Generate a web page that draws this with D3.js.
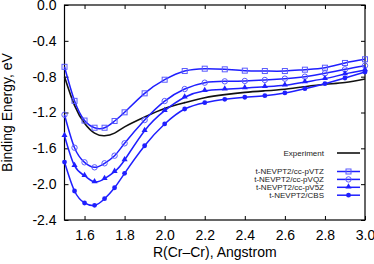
<!DOCTYPE html>
<html>
<head>
<meta charset="utf-8">
<script src="https://cdn.jsdelivr.net/npm/d3@7"></script>
<style>
  body { margin: 0; background: #fff; }
  svg { display: block; font-family: "Liberation Sans", Arial, sans-serif; }
</style>
</head>
<body>
<svg width="374" height="264"></svg>
<script>
// distances (Angstrom) where the t-NEVPT2 points sit
var rPts = [1.5, 1.55, 1.6, 1.65, 1.7, 1.75, 1.8, 1.9, 2.0, 2.1, 2.2, 2.3, 2.4, 2.5, 2.6, 2.7, 2.8, 2.9, 3.0];
var vtz = [-0.69, -1.07, -1.29, -1.37, -1.37, -1.295, -1.198, -0.986, -0.834, -0.737, -0.711, -0.718, -0.733, -0.737, -0.737, -0.722, -0.70, -0.647, -0.606];
var vqz = [-1.225, -1.593, -1.756, -1.812, -1.767, -1.682, -1.544, -1.284, -1.072, -0.938, -0.867, -0.852, -0.848, -0.837, -0.822, -0.80, -0.763, -0.718, -0.677];
var v5z = [-1.459, -1.794, -1.906, -1.975, -1.939, -1.86, -1.73, -1.403, -1.18, -1.03, -0.957, -0.941, -0.927, -0.912, -0.897, -0.86, -0.822, -0.77, -0.726];
var cbs = [-1.753, -2.076, -2.21, -2.236, -2.162, -2.04, -1.879, -1.571, -1.328, -1.161, -1.09, -1.053, -1.03, -1.012, -0.982, -0.934, -0.878, -0.815, -0.748];
// experimental curve
var expR = [1.5, 1.55, 1.6, 1.65, 1.7, 1.75, 1.8, 1.9, 2.0, 2.1, 2.2, 2.3, 2.4, 2.5, 2.6, 2.7, 2.8, 2.9, 3.0];
var expE = [-0.80, -1.12, -1.32, -1.43, -1.46, -1.43, -1.36, -1.25, -1.155, -1.09, -1.035, -1.0, -0.975, -0.958, -0.94, -0.912, -0.885, -0.865, -0.826];

var xTicks = [1.6, 1.8, 2.0, 2.2, 2.4, 2.6, 2.8, 3.0];
var yTicks = [0.0, -0.4, -0.8, -1.2, -1.6, -2.0, -2.4];
var seriesNames = ["t-NEVPT2/cc-pVTZ", "t-NEVPT2/cc-pVQZ", "t-NEVPT2/cc-pV5Z", "t-NEVPT2/CBS"];

var svg = d3.select("svg");
var pLeft = 64.5, pRight = 365, pTop = 5, pBottom = 220;

var x = d3.scaleLinear().domain([1.5, 3.0]).range([pLeft, pRight]);
var y = d3.scaleLinear().domain([-2.4, 0]).range([pBottom, pTop]);

var blue = "#1f1fff", markBlue = "#5a5aff";

// frame
svg.append("rect")
  .attr("x", pLeft).attr("y", pTop)
  .attr("width", pRight - pLeft).attr("height", pBottom - pTop)
  .attr("fill", "none").attr("stroke", "#000").attr("stroke-width", 1.2);

// ticks, inward on all four sides
var fmt = function(d) { return d.toFixed(1); };
var tk = 4;
svg.append("g").attr("transform", "translate(0," + pBottom + ")")
  .call(d3.axisBottom(x).tickValues(xTicks).tickSizeInner(-tk).tickSizeOuter(0).tickPadding(10).tickFormat(fmt))
  .call(function(g) { g.select(".domain").remove(); });
svg.append("g").attr("transform", "translate(0," + pTop + ")")
  .call(d3.axisTop(x).tickValues(xTicks).tickSizeInner(-tk).tickSizeOuter(0).tickFormat(""))
  .call(function(g) { g.select(".domain").remove(); });
svg.append("g").attr("transform", "translate(" + pLeft + ",0)")
  .call(d3.axisLeft(y).tickValues(yTicks).tickSizeInner(-tk).tickSizeOuter(0).tickPadding(8).tickFormat(fmt))
  .call(function(g) { g.select(".domain").remove(); });
svg.append("g").attr("transform", "translate(" + pRight + ",0)")
  .call(d3.axisRight(y).tickValues(yTicks).tickSizeInner(-tk).tickSizeOuter(0).tickFormat(""))
  .call(function(g) { g.select(".domain").remove(); });

svg.selectAll(".tick text").attr("font-size", 14).attr("fill", "#000")
  .attr("font-family", "'Liberation Sans', Arial, sans-serif");
svg.selectAll(".tick line").attr("stroke", "#000");

// axis titles
svg.append("text")
  .attr("x", (pLeft + pRight) / 2).attr("y", 257)
  .attr("text-anchor", "middle").attr("font-size", 14)
  .text("R(Cr\u2013Cr), Angstrom");
svg.append("text")
  .attr("transform", "translate(12," + ((pTop + pBottom) / 2) + ") rotate(-90)")
  .attr("text-anchor", "middle").attr("font-size", 14)
  .text("Binding Energy, eV");

var line = d3.line()
  .x(function(d) { return x(d[0]); })
  .y(function(d) { return y(d[1]); })
  .curve(d3.curveNatural);

// experiment
svg.append("path")
  .datum(d3.zip(expR, expE))
  .attr("d", line)
  .attr("fill", "none").attr("stroke", "#111").attr("stroke-width", 1.6);

function marker(g, kind, cx, cy) {
  if (kind == "square") {
    g.append("rect").attr("x", cx - 2.5).attr("y", cy - 2.5).attr("width", 5).attr("height", 5)
      .attr("fill", "none").attr("stroke", markBlue).attr("stroke-width", 1);
  } else if (kind == "circle") {
    g.append("circle").attr("cx", cx).attr("cy", cy).attr("r", 2.7)
      .attr("fill", "none").attr("stroke", markBlue).attr("stroke-width", 1);
  } else if (kind == "triangle") {
    g.append("path").attr("d", d3.symbol().type(d3.symbolTriangle).size(16)())
      .attr("transform", "translate(" + cx + "," + (cy - 0.5) + ")")
      .attr("fill", blue);
  } else {
    g.append("circle").attr("cx", cx).attr("cy", cy).attr("r", 2.4).attr("fill", blue);
  }
}

var kinds = ["square", "circle", "triangle", "dot"];
var allSeries = [vtz, vqz, v5z, cbs];

allSeries.forEach(function(vals, i) {
  var pts = d3.zip(rPts, vals);
  svg.append("path").datum(pts).attr("d", line)
    .attr("fill", "none").attr("stroke", blue).attr("stroke-width", 1.5);
  var g = svg.append("g");
  pts.forEach(function(p) { marker(g, kinds[i], x(p[0]), y(p[1])); });
});

// legend
var lg = svg.append("g").attr("font-size", 8).attr("fill", "#222");
lg.append("text").attr("x", 324).attr("y", 156).attr("text-anchor", "end").text("Experiment");
lg.append("line").attr("x1", 337).attr("x2", 360).attr("y1", 153).attr("y2", 153)
  .attr("stroke", "#111").attr("stroke-width", 1.6);
seriesNames.forEach(function(name, i) {
  var yy = 171.5 + i * 7.9;
  lg.append("text").attr("x", 324).attr("y", yy + 2.8).attr("text-anchor", "end").text(name);
  lg.append("line").attr("x1", 337).attr("x2", 360).attr("y1", yy).attr("y2", yy)
    .attr("stroke", blue).attr("stroke-width", 1.5);
  marker(lg, kinds[i], 348.5, yy);
});
</script>
</body>
</html>
